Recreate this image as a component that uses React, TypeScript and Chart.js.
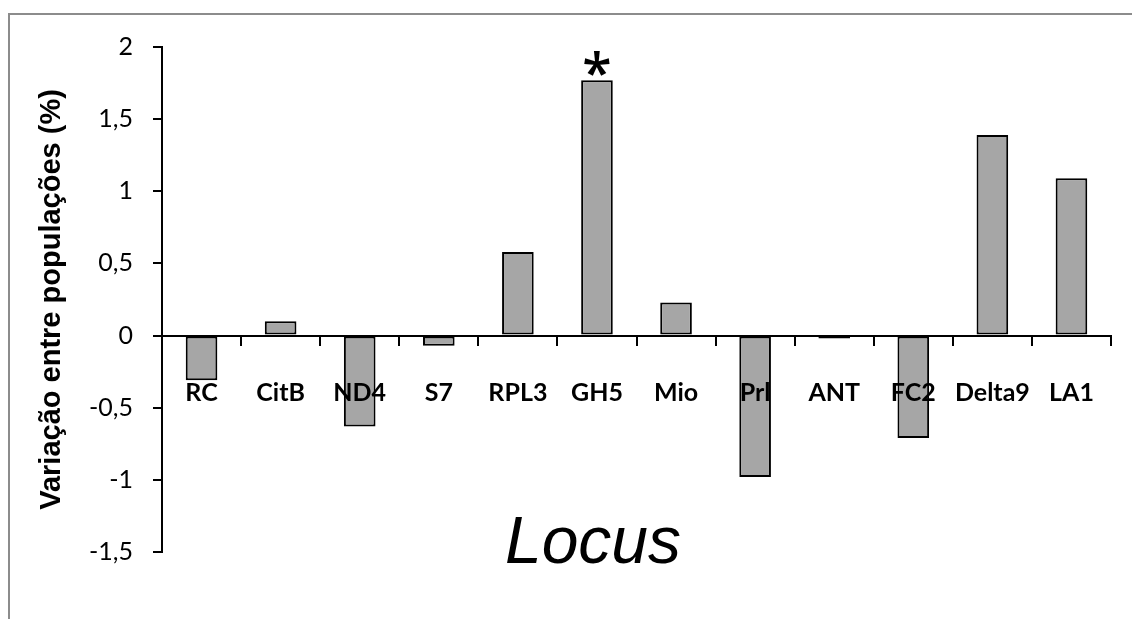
import React, { useEffect, useRef } from "react";
import { Chart, registerables } from "chart.js";

Chart.register(...registerables);

const categories: string[] = ["RC", "CitB", "ND4", "S7", "RPL3", "GH5", "Mio", "Prl", "ANT", "FC2", "Delta9", "LA1"];
const values: number[] = [-0.31, 0.1, -0.63, -0.07, 0.58, 1.77, 0.23, -0.98, -0.02, -0.71, 1.39, 1.09];
const significant: string[] = ["GH5"];
const yMin = -1.5;
const yMax = 2;
const yStep = 0.5;
const yTitle = "Variação entre populações (%)";
const xTitle = "Locus";

const framePlugin = {
  id: "frame",
  beforeDraw(chart: any) {
    const ctx = chart.ctx;
    ctx.save();
    ctx.fillStyle = "#ffffff";
    ctx.fillRect(0, 0, chart.width, chart.height);
    ctx.strokeStyle = "#8c8c8c";
    ctx.lineWidth = 2;
    ctx.beginPath();
    ctx.moveTo(9, chart.height);
    ctx.lineTo(9, 14);
    ctx.lineTo(chart.width, 14);
    ctx.stroke();
    ctx.restore();
  },
};

const starPlugin = {
  id: "stars",
  afterDraw(chart: any) {
    const ctx = chart.ctx;
    const meta = chart.getDatasetMeta(0);
    ctx.save();
    ctx.fillStyle = "#000";
    ctx.textAlign = "center";
    ctx.textBaseline = "alphabetic";
    significant.forEach((name) => {
      const i = categories.indexOf(name);
      if (i < 0) return;
      const el = meta.data[i];
      ctx.font = '600 60px "Open Sans"';
      const m = ctx.measureText("*");
      const h = m.actualBoundingBoxAscent + m.actualBoundingBoxDescent;
      const size = (60 * 25) / h;
      ctx.font = `600 ${size}px "Open Sans"`;
      const m2 = ctx.measureText("*");
      const baseline = el.y - 4 - m2.actualBoundingBoxDescent;
      ctx.fillText("*", el.x, baseline);
    });
    ctx.restore();
  },
};

const titlePlugin = {
  id: "locusTitle",
  afterDraw(chart: any) {
    const ctx = chart.ctx;
    ctx.save();
    ctx.fillStyle = "#000";
    ctx.font = 'italic 66px "Liberation Sans", Arial, sans-serif';
    ctx.textAlign = "center";
    ctx.textBaseline = "alphabetic";
    ctx.fillText(xTitle, 593, 563);
    ctx.restore();
  },
};

export default function App() {
  const ref = useRef<HTMLCanvasElement | null>(null);
  useEffect(() => {
    if (!ref.current) return;
    const chart = new Chart(ref.current, {
      type: "bar",
      data: {
        labels: categories,
        datasets: [
          {
            data: values,
            backgroundColor: "#a6a6a6",
            borderColor: "#000000",
            borderWidth: 2,
            borderSkipped: false,
            barPercentage: 0.4,
            categoryPercentage: 1,
          },
        ],
      },
      options: {
        animation: false,
        responsive: false,
        devicePixelRatio: 1,
        layout: { padding: { left: 35, top: 47, right: 21, bottom: 67 } },
        plugins: {
          legend: { display: false },
          tooltip: { enabled: false },
          title: { display: false },
        },
        scales: {
          x: {
            type: "category",
            position: { y: 0 } as any,
            offset: true,
            grid: {
              offset: true,
              drawOnChartArea: false,
              tickLength: 9,
              color: "#000",
              lineWidth: 2,
              z: 1,
            },
            border: { display: true, color: "#000", width: 2, z: 1 },
            ticks: {
              z: 1,
              color: "#000",
              font: { family: "Lato", size: 25, weight: "bold" },
              padding: 33,
              maxRotation: 0,
              minRotation: 0,
              autoSkip: false,
            },
          },
          y: {
            min: yMin,
            max: yMax,
            afterFit(scale: any) {
              scale.width = 127;
            },
            ticks: {
              stepSize: yStep,
              color: "#000",
              font: { family: "Lato", size: 25 },
              padding: 20,
              callback: (v: any) => String(v).replace(".", ","),
            },
            grid: {
              drawOnChartArea: false,
              tickLength: 9,
              color: "#000",
              lineWidth: 2,
            },
            border: { display: true, color: "#000", width: 2 },
            title: {
              display: true,
              text: yTitle,
              color: "#000",
              font: { family: '"Liberation Sans", Arial, sans-serif', size: 29, weight: "bold" },
              padding: 0,
            },
          },
        },
      },
      plugins: [framePlugin, starPlugin, titlePlugin],
    });
    return () => chart.destroy();
  }, []);
  return (
    <div style={{ position: "fixed", left: 0, top: 0, width: 1132, height: 619, background: "#fff" }}>
      <canvas ref={ref} width={1132} height={619} style={{ display: "block" }} />
    </div>
  );
}
